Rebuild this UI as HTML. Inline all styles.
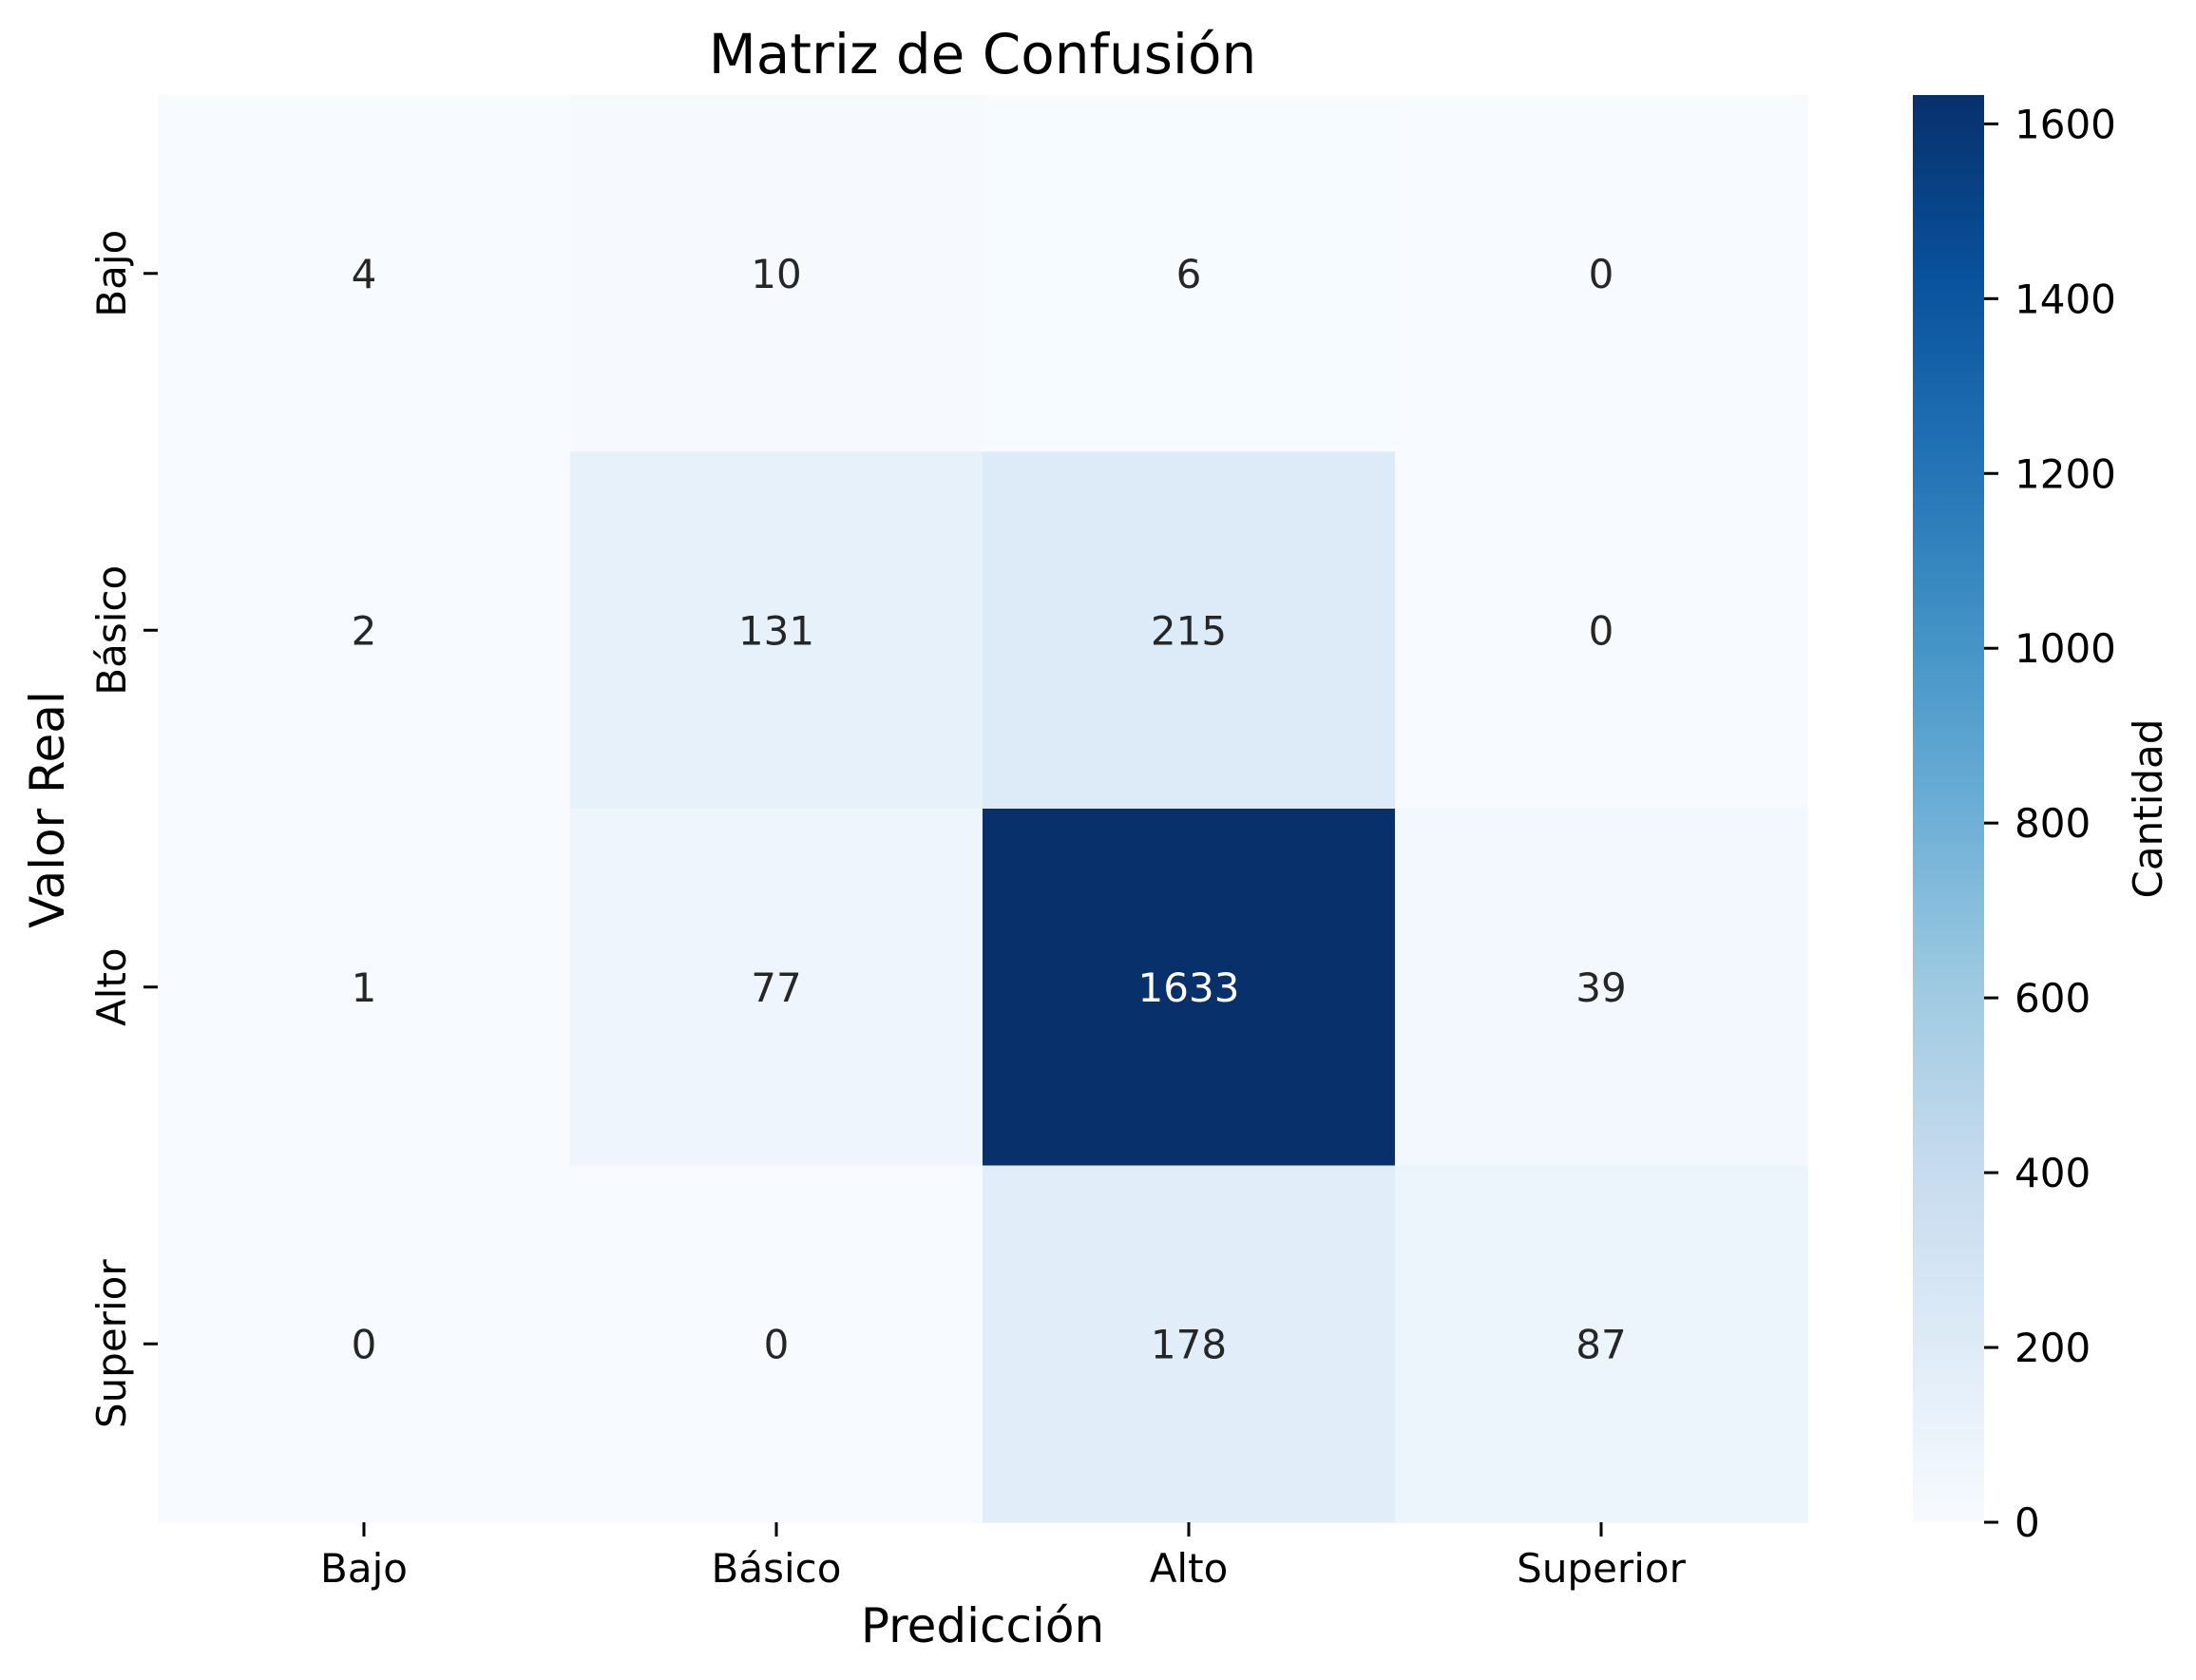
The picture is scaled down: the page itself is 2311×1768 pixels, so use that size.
<!DOCTYPE html>
<html><head><meta charset="utf-8"><style>
html,body{margin:0;padding:0;background:#fff;}
svg{display:block;font-family:"DejaVu Sans","Liberation Sans",sans-serif;}
</style></head><body>
<svg id="chart" width="2311" height="1768" viewBox="0 0 2311 1768" xmlns="http://www.w3.org/2000/svg">
<defs><linearGradient id="cbgrad" x1="0" y1="1" x2="0" y2="0"></linearGradient></defs>
<text x="1034" y="77" font-size="58" text-anchor="middle" fill="#000">Matriz de Confusión</text>
<g id="cells"></g>
<g id="xaxis"></g>
<g id="yaxis"></g>
<g id="cbar"></g>
<text x="1034" y="1728" font-size="50" text-anchor="middle" fill="#000">Predicción</text>
<text x="67" y="852" font-size="50" text-anchor="middle" fill="#000" transform="rotate(-90 67 852)">Valor Real</text>
<text x="2275" y="851" font-size="42" text-anchor="middle" fill="#000" transform="rotate(-90 2275 851)">Cantidad</text>
</svg>
<script>
const predLabels = ["Bajo","Básico","Alto","Superior"];
const realLabels = ["Bajo","Básico","Alto","Superior"];
const row0 = [4,10,6,0];
const row1 = [2,131,215,0];
const row2 = [1,77,1633,39];
const row3 = [0,0,178,87];
const cbTicks = [0,200,400,600,800,1000,1200,1400,1600];

const matrix = [row0,row1,row2,row3];
const NS = "http://www.w3.org/2000/svg";
const L = 166, R = 1902, T = 100, B = 1602;
const vmin = 0, vmax = Math.max(...matrix.flat());
const cw = (R - L) / predLabels.length, ch = (B - T) / realLabels.length;
const xPos = i => L + cw * i;
const yPos = j => T + ch * j;

const stops = ["#f7fbff","#deebf7","#c6dbef","#9ecae1","#6baed6","#4292c6","#2171b5","#08519c","#08306b"];
function hex(h){return [1,3,5].map(i=>parseInt(h.substr(i,2),16));}
function cmap(t){
  t = Math.max(0, Math.min(1, t));
  const p = t * (stops.length - 1), i = Math.min(Math.floor(p), stops.length - 2), f = p - i;
  const a = hex(stops[i]), b = hex(stops[i+1]);
  return a.map((v,k)=>Math.round(v + (b[k]-v)*f));
}
function lum(c){
  const l = c.map(v=>{v/=255;return v<=0.03928?v/12.92:Math.pow((v+0.055)/1.055,2.4);});
  return 0.2126*l[0]+0.7152*l[1]+0.0722*l[2];
}
function mk(tag, attrs, parent){
  const e = document.createElementNS(NS, tag);
  for (const k in attrs) e.setAttribute(k, attrs[k]);
  parent.appendChild(e);
  return e;
}

const cells = document.getElementById('cells');
matrix.forEach((row, j) => {
  row.forEach((v, i) => {
    const c = cmap((v - vmin) / (vmax - vmin));
    const r = mk('rect', {x: xPos(i), y: yPos(j), width: cw + 0.6, height: ch + 0.6, fill: `rgb(${c.join(',')})`}, cells);
    
    
    const t = mk('text', {x: xPos(i) + cw/2, y: yPos(j) + ch/2 + 15, 'font-size': 42, 'text-anchor': 'middle', fill: lum(c) < 0.408 ? '#ffffff' : '#262626'}, cells);
    t.textContent = v;
    
    
  });
});

const xa = document.getElementById('xaxis');
predLabels.forEach((lab, i) => {
  const x = xPos(i) + cw/2;
  const tk = mk('line', {x1: x, x2: x, y1: B, y2: B + 15, stroke: '#000', 'stroke-width': 3}, xa);
  
  
  const t = mk('text', {x: x, y: 1665, 'font-size': 42, 'text-anchor': 'middle', fill: '#000'}, xa);
  t.textContent = lab;
  
  
});

const ya = document.getElementById('yaxis');
realLabels.forEach((lab, j) => {
  const y = yPos(j) + ch/2;
  const tk = mk('line', {x1: L - 15, x2: L, y1: y, y2: y, stroke: '#000', 'stroke-width': 3}, ya);
  
  
  const t = mk('text', {x: 132, y: y, 'font-size': 42, 'text-anchor': 'middle', fill: '#000', transform: `rotate(-90 132 ${y})`}, ya);
  t.textContent = lab;
  
  
});

const g = document.getElementById('cbgrad');
stops.forEach((s, k) => mk('stop', {offset: k/(stops.length-1), 'stop-color': s}, g));
const cb = document.getElementById('cbar');
const cbL = 2013, cbR = 2088;
const cbY = v => B - (v - vmin) / (vmax - vmin) * (B - T);
const cr = mk('rect', {x: cbL, y: T, width: cbR - cbL, height: B - T, fill: 'url(#cbgrad)'}, cb);


cbTicks.forEach(v => {
  const y = cbY(v);
  const tk = mk('line', {x1: cbR, x2: cbR + 15, y1: y, y2: y, stroke: '#000', 'stroke-width': 3}, cb);
  
  
  const t = mk('text', {x: 2120, y: y + 15, 'font-size': 42, fill: '#000'}, cb);
  t.textContent = v;
  
  
});
</script>
</body></html>
